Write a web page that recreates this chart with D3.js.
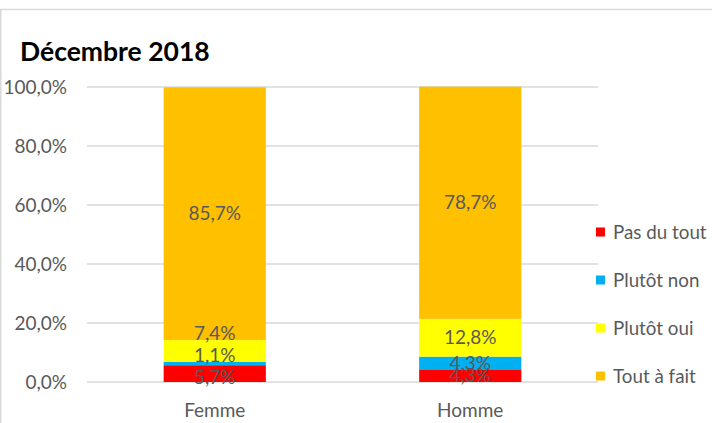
<!DOCTYPE html>
<html>
<head>
<meta charset="utf-8">
<script src="https://cdn.jsdelivr.net/npm/d3@7"></script>
<style>
  body { margin: 0; background: #fff; }
  text { font-family: Lato, "Open Sans", sans-serif; }
</style>
</head>
<body>
<div id="chart"></div>
<script>
// data
var categories = ["Femme", "Homme"];
var seriesNames = ["Pas du tout", "Plutôt non", "Plutôt oui", "Tout à fait"];
var seriesColors = ["#ff0000", "#00b0f0", "#ffff00", "#ffc000"];
var pasDuTout = [5.7, 4.3];
var plutotNon = [1.1, 4.3];
var plutotOui = [7.4, 12.8];
var toutAFait = [85.7, 78.7];
var yTicks = [0, 20, 40, 60, 80, 100];

var seriesValues = [pasDuTout, plutotNon, plutotOui, toutAFait];

// hand-moved labels in the original (pixel nudges)
var labelNudge = {
  "Femme|Pas du tout": 4,
  "Femme|Plutôt non": -8,
  "Femme|Plutôt oui": -18
};

var rows = categories.map(function (c, i) {
  var r = { cat: c };
  seriesNames.forEach(function (s, j) { r[s] = seriesValues[j][i]; });
  return r;
});

var width = 712, height = 423;
var svg = d3.select("#chart").append("svg")
  .attr("width", width)
  .attr("height", height);

// frame
svg.append("line")
  .attr("x1", 0).attr("x2", width).attr("y1", 9.5).attr("y2", 9.5)
  .attr("stroke", "#d9d9d9").attr("stroke-width", 1.5);
svg.append("line")
  .attr("x1", 0.75).attr("x2", 0.75).attr("y1", 9).attr("y2", height)
  .attr("stroke", "#d9d9d9").attr("stroke-width", 1.5);

svg.append("text")
  .attr("x", 20).attr("y", 61)
  .attr("font-size", 26.5).attr("font-weight", "bold")
  .attr("fill", "#000")
  .text("Décembre 2018");

var plot = { left: 87, right: 598, top: 87, bottom: 382 };

var x = d3.scaleBand()
  .domain(categories)
  .range([plot.left, plot.right])
  .paddingInner(0.6)
  .paddingOuter(0.3);

var y = d3.scaleLinear()
  .domain([0, 100])
  .range([plot.bottom, plot.top]);

// gridlines
svg.append("g")
  .selectAll("line")
  .data(yTicks)
  .enter().append("line")
  .attr("x1", plot.left).attr("x2", plot.right)
  .attr("y1", function (d) { return y(d); })
  .attr("y2", function (d) { return y(d); })
  .attr("stroke", "#d9d9d9").attr("stroke-width", 1.5);

// y axis labels
var yAxis = d3.axisLeft(y)
  .tickValues(yTicks)
  .tickSize(0)
  .tickPadding(0)
  .tickFormat(function (d) { return d3.format(".1f")(d).replace(".", ",") + "%"; });
var yg = svg.append("g")
  .attr("transform", "translate(67,0)")
  .call(yAxis);
yg.select(".domain").remove();
yg.selectAll("text")
  .attr("font-size", 19).attr("fill", "#595959")
  .attr("font-family", "Lato, sans-serif");

// x axis labels
var xAxis = d3.axisBottom(x).tickSize(0).tickPadding(0);
var xg = svg.append("g")
  .attr("transform", "translate(0,403)")
  .call(xAxis);
xg.select(".domain").remove();
xg.selectAll("text")
  .attr("font-size", 19).attr("fill", "#595959")
  .attr("font-family", "Lato, sans-serif");

// stacked bars
var stack = d3.stack().keys(seriesNames);
var layers = stack(rows);

var layerG = svg.append("g")
  .selectAll("g")
  .data(layers)
  .enter().append("g")
  .attr("fill", function (d, i) { return seriesColors[i]; });

layerG.selectAll("rect")
  .data(function (d) { return d; })
  .enter().append("rect")
  .attr("x", function (d) { return x(d.data.cat); })
  .attr("width", x.bandwidth())
  .attr("y", function (d) { return y(d[1]); })
  .attr("height", function (d) { return y(d[0]) - y(d[1]); });

// value labels
var labelG = svg.append("g");
layers.forEach(function (layer) {
  layer.forEach(function (d) {
    var nudge = labelNudge[d.data.cat + "|" + layer.key] || 0;
    labelG.append("text")
      .attr("x", x(d.data.cat) + x.bandwidth() / 2)
      .attr("y", y((d[0] + d[1]) / 2) + nudge)
      .attr("dy", "0.35em")
      .attr("text-anchor", "middle")
      .attr("font-size", 19)
      .attr("fill", "#595959")
      .text(d3.format(".1f")(d[1] - d[0]).replace(".", ",") + "%");
  });
});

// legend
var legend = svg.append("g")
  .selectAll("g")
  .data(seriesNames)
  .enter().append("g")
  .attr("transform", function (d, i) { return "translate(596," + (232 + i * 48) + ")"; });

legend.append("rect")
  .attr("x", 0).attr("y", -4.5)
  .attr("width", 9).attr("height", 9)
  .attr("fill", function (d, i) { return seriesColors[i]; });

legend.append("text")
  .attr("x", 17).attr("y", 0)
  .attr("dy", "0.35em")
  .attr("font-size", 18.8)
  .attr("fill", "#595959")
  .text(function (d) { return d; });
</script>
</body>
</html>
